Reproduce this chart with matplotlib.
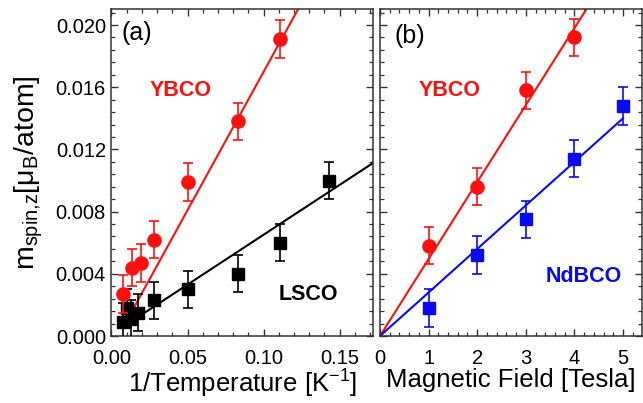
import matplotlib
matplotlib.use("Agg")
import matplotlib.pyplot as plt
import numpy as np
from matplotlib.ticker import MultipleLocator

plt.rcParams['font.family'] = ['Liberation Sans', 'DejaVu Sans']
plt.rcParams['mathtext.fontset'] = 'custom'
plt.rcParams['mathtext.rm'] = 'Liberation Sans'
plt.rcParams['mathtext.it'] = 'Liberation Sans'
plt.rcParams['mathtext.default'] = 'regular'

# ---- data: panel (a) ----
ybco_a_x = [0.0074, 0.0133, 0.0195, 0.0280, 0.0500, 0.0833, 0.1111]
ybco_a_y = [0.0027, 0.0044, 0.0047, 0.0062, 0.0099, 0.0138, 0.0191]
ybco_a_err = [0.0012, 0.0012, 0.0012, 0.0012, 0.0012, 0.0012, 0.0012]
ybco_a_fit = (0.1778, -0.0008)          # slope, intercept
ybco_a_fit_range = (0.0109, 0.1226)

lsco_x = [0.0074, 0.0100, 0.0125, 0.0175, 0.0280, 0.0500, 0.0833, 0.1111, 0.1429]
lsco_y = [0.0009, 0.0018, 0.0011, 0.0015, 0.0023, 0.0030, 0.0040, 0.0060, 0.0100]
lsco_err = [0.0012] * 9
lsco_fit = (0.0641, 0.0001)
lsco_fit_range = (0.020, 0.172)

# ---- data: panel (b) ----
field = [1, 2, 3, 4]
ybco_b_y = [0.0058, 0.0096, 0.0158, 0.0192]
ybco_b_err = [0.0012, 0.0012, 0.0012, 0.0012]
ybco_b_fit = (0.00495, 0.0)
ybco_b_fit_range = (0.0, 4.25)

field_nd = [1, 2, 3, 4, 5]
ndbco_y = [0.0018, 0.0052, 0.0075, 0.0114, 0.0148]
ndbco_err = [0.0012, 0.0012, 0.0012, 0.0012, 0.0012]
ndbco_fit = (0.0028, 0.0)
ndbco_fit_range = (0.0, 5.0)

xticks_a = [0.00, 0.05, 0.10, 0.15]
xticklabels_a = ["0.00", "0.05", "0.10", "0.15"]
yticks = [0.000, 0.004, 0.008, 0.012, 0.016, 0.020]
yticklabels = ["0.000", "0.004", "0.008", "0.012", "0.016", "0.020"]
xticks_b = [0, 1, 2, 3, 4, 5]

RED = '#ff1010'
BLUE = '#0a0af0'
BLACK = '#000000'

fig = plt.figure(figsize=(6.43, 4.03), dpi=100)
W, H = 643, 403
axa = fig.add_axes([111.5 / W, (H - 336) / H, (373 - 111.5) / W, (336 - 9) / H])
axb = fig.add_axes([380 / W, (H - 336) / H, (642 - 380) / W, (336 - 9) / H])

ms = 9.5
eb_kw = dict(linestyle='none', elinewidth=1.2, capsize=3.8, capthick=1.2)

def fitline(ax, fit, rng, color):
    xs = np.array(rng)
    ax.plot(xs, fit[0] * xs + fit[1], color=color, lw=1.5, zorder=2)

# panel (a)
fitline(axa, ybco_a_fit, ybco_a_fit_range, RED)
fitline(axa, lsco_fit, lsco_fit_range, BLACK)
axa.errorbar(lsco_x, lsco_y, yerr=lsco_err, fmt='s', color=BLACK, ms=ms - 0.5, zorder=3, **eb_kw)
axa.errorbar(ybco_a_x, ybco_a_y, yerr=ybco_a_err, fmt='o', color=RED, ms=ms, zorder=4, **eb_kw)

# panel (b)
fitline(axb, ybco_b_fit, ybco_b_fit_range, RED)
fitline(axb, ndbco_fit, ndbco_fit_range, BLUE)
axb.errorbar(field, ybco_b_y, yerr=ybco_b_err, fmt='o', color=RED, ms=ms, zorder=4, **eb_kw)
axb.errorbar(field_nd, ndbco_y, yerr=ndbco_err, fmt='s', color=BLUE, ms=ms - 0.5, zorder=3, **eb_kw)

for ax in (axa, axb):
    ax.set_ylim(0, 0.02103)
    ax.set_yticks(yticks)
    ax.yaxis.set_minor_locator(MultipleLocator(0.0008))
    ax.tick_params(which='both', direction='in', top=True, right=True, color='#333333')
    ax.tick_params(which='major', length=5, width=1.0, labelsize=14.5)
    ax.tick_params(which='minor', length=3, width=0.9)
    ax.tick_params(axis='x', which='major', pad=9)
    ax.tick_params(axis='y', which='major', pad=4)
    for s in ax.spines.values():
        s.set_color('#333333')
        s.set_linewidth(1.1)

axa.set_xlim(0, 0.172)
axa.set_xticks(xticks_a)
axa.set_xticklabels(xticklabels_a)
axa.xaxis.set_minor_locator(MultipleLocator(0.01))
axa.set_yticklabels(yticklabels)
axa.set_xlabel(r'1/Temperature [K$^{-1}$]', fontsize=18.5, labelpad=0)
axa.set_ylabel(r'm$_{\rm spin{,}z}$[$\mu_{\rm B}$/atom]', fontsize=20.5, labelpad=4)
axa.yaxis.set_label_coords(-0.255, 0.5)

axb.set_xlim(0, 5.39)
axb.set_xticks(xticks_b)
axb.xaxis.set_minor_locator(MultipleLocator(0.2))
axb.tick_params(axis='y', labelleft=False)
axb.set_xlabel('Magnetic Field [Tesla]', fontsize=18.5, labelpad=0)

axa.text(0.0164, 0.0195, '(a)', fontsize=18, ha='center', va='center')
axa.text(0.0454, 0.0158, 'YBCO', fontsize=15.5, fontweight='bold', color=RED, ha='center', va='center')
axa.text(0.1298, 0.0027, 'LSCO', fontsize=15.5, fontweight='bold', color=BLACK, ha='center', va='center')
axb.text(0.617, 0.0193, '(b)', fontsize=18, ha='center', va='center')
axb.text(1.44, 0.0158, 'YBCO', fontsize=15.5, fontweight='bold', color=RED, ha='center', va='center')
axb.text(4.2, 0.0038, 'NdBCO', fontsize=15.5, fontweight='bold', color=BLUE, ha='center', va='center')

fig.savefig('out.png', dpi=100)
